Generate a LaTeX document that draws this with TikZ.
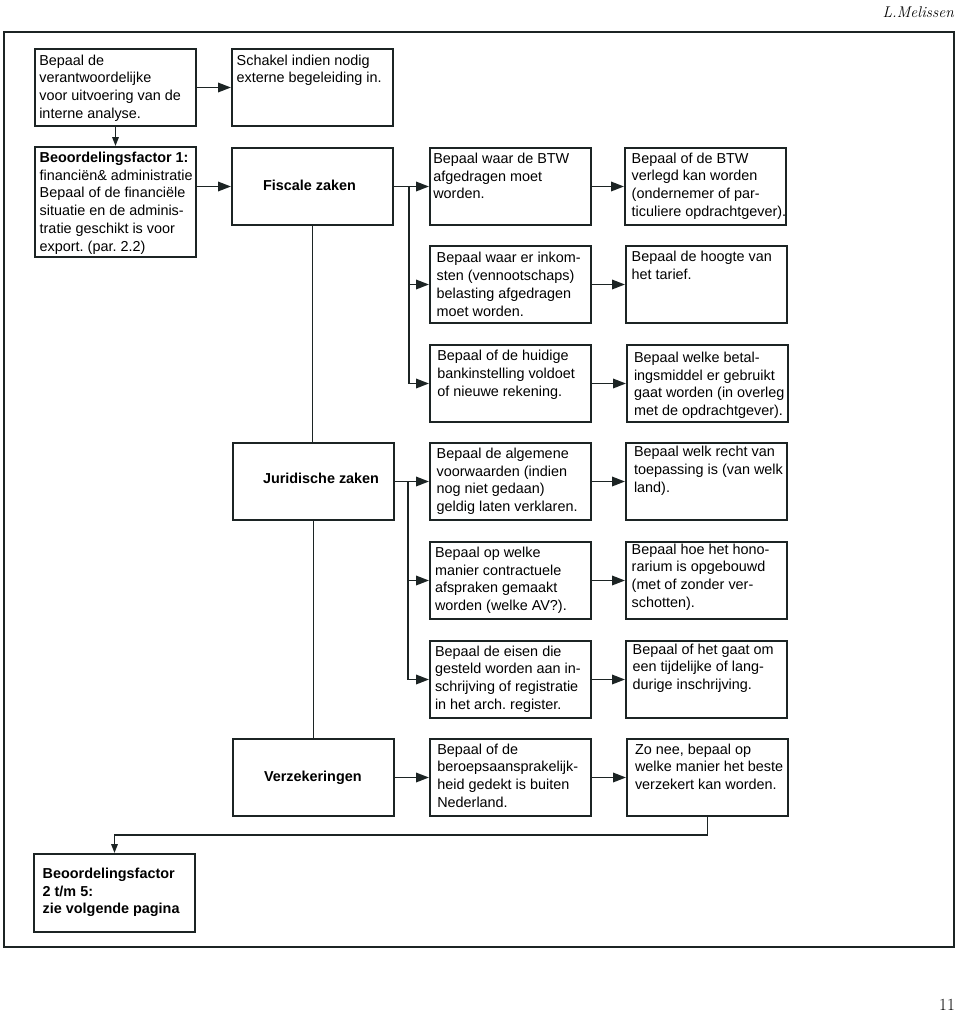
\documentclass[tikz,border=0pt]{standalone}
\usepackage{fontspec}
\newfontfamily\arialfont{Liberation Sans}
\usetikzlibrary{arrows.meta}
\definecolor{ink}{RGB}{28,36,36}
\frenchspacing
\newcommand\bxfont{\arialfont\fontsize{14.4}{17.8}\selectfont}
\newcommand\bt[1]{\makebox[\bxw pt][l]{\begin{tabular}[t]{@{}l@{}}#1\end{tabular}}}
\tikzset{
  bx/.code n args={3}{%
    \pgfmathsetmacro\bxs{#1-1}%
    \pgfmathsetmacro\bxw{161-2*\bxs}%
    \pgfmathsetmacro\bxh{#2-1}%
    \pgfmathsetmacro\bxd{#3-2-\bxh}%
    \tikzset{draw=ink, line width=2pt, anchor=north west, inner ysep=0pt,
      inner xsep=\bxs pt, text height=\bxh pt,
      text depth=\bxd pt, font=\bxfont, text=black}},
  arr/.style={draw=ink, line width=1.8pt, -{Triangle[length=13pt,width=9.5pt]}},
  arrs/.style={draw=ink, line width=1.6pt, -{Triangle[length=9pt,width=6.5pt]}},
  ln/.style={draw=ink, line width=1.6pt},
  frame/.style={draw=ink, line width=2.2pt}
}
\begin{document}
\begin{tikzpicture}[x=1pt,y=-1pt]
\useasboundingbox (0,0) rectangle (960,1012);
\draw[frame] (4,32) rectangle (954,947);
\node[anchor=base east, inner sep=0pt, font=\fontsize{15.5}{18}\selectfont\itshape] (author) at (954,17) {L.Melissen};
\node[anchor=base east, inner sep=0pt, font=\fontsize{17}{18}\selectfont] (page) at (955,1010) {11};

% column 1
\node[bx={5.3}{17}{79}] (A) at (34,48) {\bt{Bepaal de\\verantwoordelijke\\voor uitvoering van de\\interne analyse.}};
\node[bx={5.7}{17}{79}] (B) at (231,48) {\bt{Schakel indien nodig\\externe begeleiding in.}};
\node[bx={5.7}{16.3}{112}] (C) at (34,146) {\bt{\textbf{Beoordelingsfactor 1:}\\financiën\& administratie\\Bepaal of de financiële\\situatie en de adminis-\\tratie geschikt is voor\\export. (par. 2.2)}};

% column 2
\node[bx={32}{43}{79}] (D) at (231,147) {\bt{\textbf{Fiscale zaken}}};
\node[bx={31}{41.3}{79}] (J) at (232,442) {\bt{\textbf{Juridische zaken}}};
\node[bx={32}{43.7}{79}] (V) at (232,738) {\bt{\textbf{Verzekeringen}}};

% column 3
\node[bx={4.3}{16.3}{79}] (E1) at (429,147) {\bt{Bepaal waar de BTW\\afgedragen moet\\worden.}};
\node[bx={7.7}{17.7}{79}] (E2) at (429,245) {\bt{Bepaal waar er inkom-\\sten (vennootschaps)\\belasting afgedragen\\moet worden.}};
\node[bx={8.3}{16.7}{79}] (E3) at (429,344) {\bt{Bepaal of de huidige\\bankinstelling voldoet\\of nieuwe rekening.}};
\node[bx={7.7}{16.3}{79}] (G1) at (429,442) {\bt{Bepaal de algemene\\voorwaarden (indien\\nog niet gedaan)\\geldig laten verklaren.}};
\node[bx={6}{16.3}{79}] (G2) at (429,541) {\bt{Bepaal op welke\\manier contractuele\\afspraken gemaakt\\worden (welke AV?).}};
\node[bx={6}{16}{79}] (G3) at (429,640) {\bt{Bepaal de eisen die\\gesteld worden aan in-\\schrijving of registratie\\in het arch. register.}};
\node[bx={8.3}{16}{79}] (G4) at (429,738) {\bt{Bepaal of de\\beroepsaansprakelijk-\\heid gedekt is buiten\\Nederland.}};

% column 4
\node[bx={7.7}{16}{79}] (F1) at (624,147) {\bt{Bepaal of de BTW\\verlegd kan worden\\(ondernemer of par-\\ticuliere opdrachtgever).}};
\node[bx={6.7}{16.7}{79}] (F2) at (625,245) {\bt{Bepaal de hoogte van\\het tarief.}};
\node[bx={8}{18.3}{79}] (F3) at (626,344) {\bt{Bepaal welke betal-\\ingsmiddel er gebruikt\\gaat worden (in overleg\\met de opdrachtgever).}};
\node[bx={9}{14.7}{79}] (H1) at (625,442) {\bt{Bepaal welk recht van\\toepassing is (van welk\\land).}};
\node[bx={6.7}{13}{79}] (H2) at (625,541) {\bt{Bepaal hoe het hono-\\rarium is opgebouwd\\(met of zonder ver-\\schotten).}};
\node[bx={7.7}{14}{79}] (H3) at (625,640) {\bt{Bepaal of het gaat om\\een tijdelijke of lang-\\durige inschrijving.}};
\node[bx={9}{16}{79}] (H4) at (626,738) {\bt{Zo nee, bepaal op\\welke manier het beste\\verzekert kan worden.}};

% final box
\node[bx={9.7}{25.3}{80}] (Z) at (33,853) {\bt{\textbf{Beoordelingsfactor}\\\textbf{2 t/m 5:}\\\textbf{zie volgende pagina}}};

% helper coordinates
\coordinate (fb) at (409,0);
\coordinate (jb) at (408,0);
\coordinate (turn) at (115,835);

% connectors
\draw[arr] (A.east) -- (B.west);
\draw[arrs] (A.south) -- (C.north);
\draw[arr] (C.east |- D.west) -- (D.west);

\draw[arr] (D.east) -- (E1.west);
\draw[arr] (fb |- D.east) |- (E3.west);
\draw[arr] (fb |- E2.west) -- (E2.west);
\draw[arr] (E1.east) -- (F1.west);
\draw[arr] (E2.east) -- (E2.east -| F2.west);
\draw[arr] (E3.east) -- (E3.east -| F3.west);

\draw[ln] (D.south) -- (D.south |- J.north);
\draw[ln] (J.south) -- (J.south |- V.north);

\draw[arr] (J.east) -- (G1.west);
\draw[arr] (jb |- J.east) |- (G3.west);
\draw[arr] (jb |- G2.west) -- (G2.west);
\draw[arr] (G1.east) -- (G1.east -| H1.west);
\draw[arr] (G2.east) -- (G2.east -| H2.west);
\draw[arr] (G3.east) -- (G3.east -| H3.west);

\draw[arr] (V.east) -- (V.east -| G4.west);
\draw[arr] (G4.east) -- (H4.west);

\draw[arrs] (H4.south) |- (Z.north |- turn) -- (Z.north);
\end{tikzpicture}
\end{document}
